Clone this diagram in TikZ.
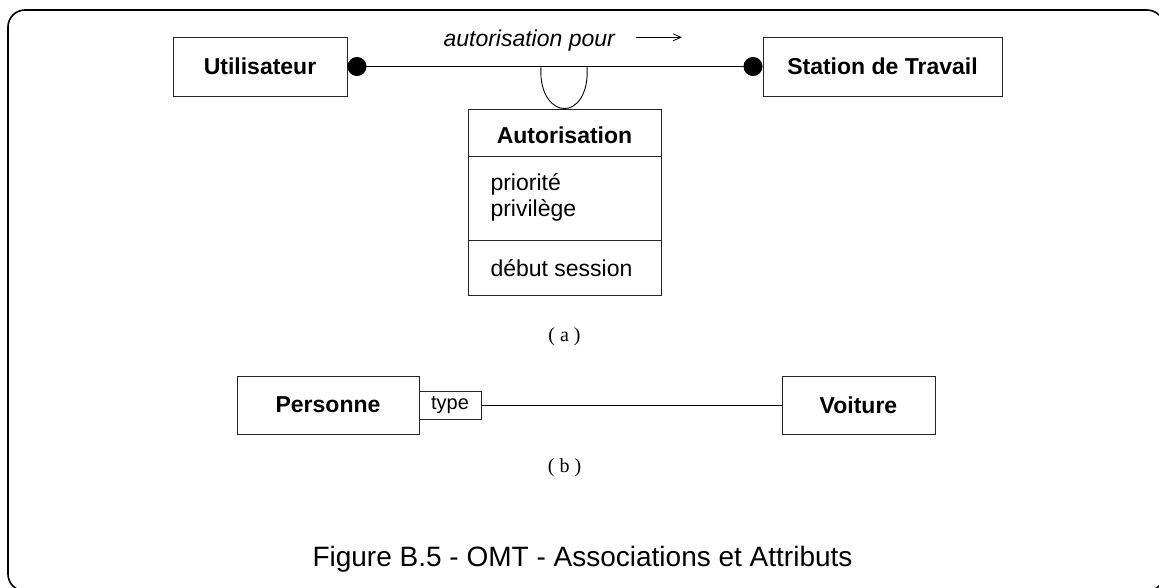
\documentclass[tikz,border=0pt]{standalone}
\usepackage{fontspec}
\setmainfont{Liberation Sans}
\newfontfamily\seriffont{Liberation Serif}
\usetikzlibrary{arrows.meta}
\begin{document}
\begin{tikzpicture}[x=1pt,y=-1pt,
  frame/.style={draw=black,line width=1.6pt,rounded corners=17pt},
  cls/.style={draw=black!85,line width=1pt,inner sep=0pt,fill=white},
  bigtext/.style={font=\fontsize{23}{26}\selectfont},
  boldtext/.style={font=\fontsize{23}{26}\selectfont\bfseries},
  conn/.style={draw=black,line width=0.9pt},
  sublabel/.style={font=\seriffont\fontsize{20}{22}\selectfont,anchor=base}]
\useasboundingbox (0,0) rectangle (1159,587);
\draw[frame] (8,10) rectangle (1164,591);

% (a)
\node[cls,boldtext,minimum width=174pt,minimum height=59pt] (u) at (260,66.5) {Utilisateur};
\node[cls,boldtext,minimum width=239pt,minimum height=59pt] (s) at (882.5,66.5) {Station de Travail};
\draw[conn,{Circle[length=19pt]}-{Circle[length=19pt]}] (u.east) -- (s.west);
\node[bigtext,font=\fontsize{23}{26}\selectfont\itshape,anchor=base west] (lab) at (440,46) {autorisation pour};
\coordinate (arS) at (636,37.3);
\coordinate (arE) at (682,37.3);
\draw[conn,line width=0.8pt,-{Straight Barb[length=8pt,width=7pt]}] (arS) -- (arE);

\node[cls,minimum width=193pt,minimum height=186pt] (auth) at (564.5,202) {};
\draw[conn,line width=1pt,draw=black!85] (auth.west |- 0,156) -- (auth.east |- 0,156);
\draw[conn,line width=1pt,draw=black!85] (auth.west |- 0,240) -- (auth.east |- 0,240);
\node[boldtext] (authn) at (564.5,135.5) {Autorisation};
\node[bigtext,anchor=base west] (a1) at (487,190) {priorité};
\node[bigtext,anchor=base west] (a2) at (487,216) {privilège};
\node[bigtext,anchor=base west] (a3) at (487,276) {début session};

\coordinate (arcL) at (541,66.5);
\coordinate (arcR) at (587,66.5);
\draw[conn] (arcL) .. controls (539,96) and (554,109) .. (auth.north)
  .. controls (575,109) and (589,96) .. (arcR);

\node[sublabel] (la) at (564.5,341) {( a )};

% (b)
\node[cls,boldtext,minimum width=182pt,minimum height=58pt] (p) at (328,405) {Personne};
\node[cls,font=\fontsize{20}{22}\selectfont,minimum width=62pt,minimum height=28pt] (t) at (450,405) {type};
\node[cls,boldtext,minimum width=153pt,minimum height=58pt] (v) at (858.5,405) {Voiture};
\draw[conn] (t.east) -- (v.west);

\node[sublabel] (lb) at (564.5,472) {( b )};

\node[font=\fontsize{28}{32}\selectfont,anchor=base] (cap) at (582.5,566) {Figure B.5 - OMT - Associations et Attributs};
\end{tikzpicture}
\end{document}
